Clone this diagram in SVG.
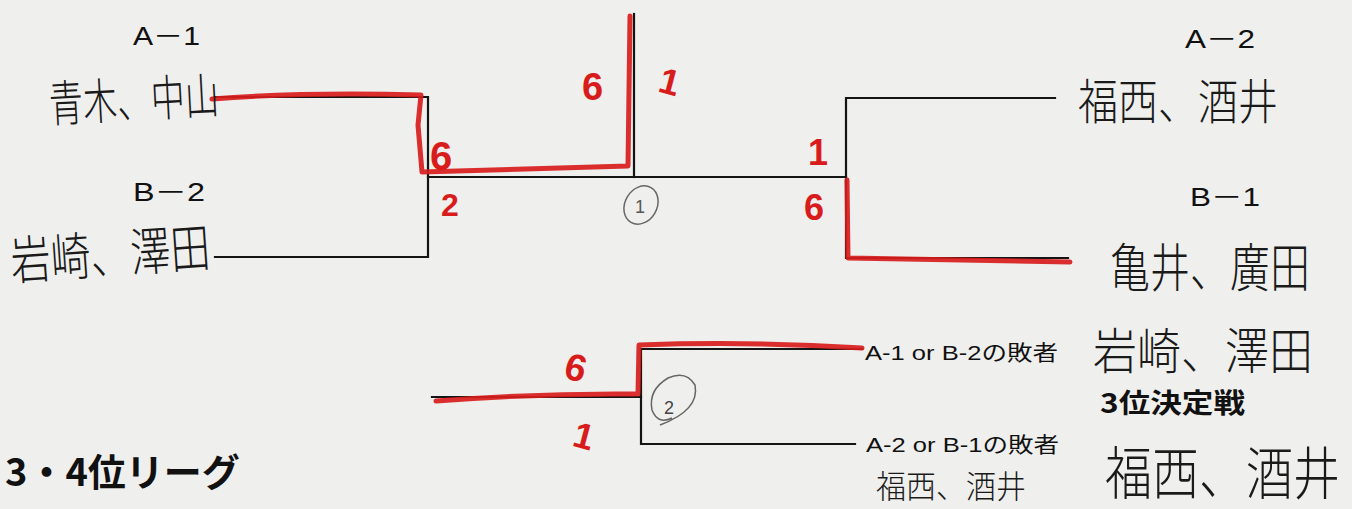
<svg xmlns="http://www.w3.org/2000/svg" width="1352" height="509" viewBox="0 0 1352 509">
<style>
.bg{fill:#efefed}
.ln{stroke:#141414;stroke-width:2.2;fill:none;stroke-linecap:square}
.red{stroke:#d81c1c;stroke-width:5;fill:none;stroke-linecap:round;stroke-linejoin:round;opacity:.92}
.lab{font-family:"Liberation Sans","Noto Sans CJK JP",sans-serif;font-size:25px;fill:#111}
.hw{font-family:"Noto Sans CJK JP",sans-serif;font-weight:300;fill:#1a1a1a}
.num{font-family:"Liberation Sans","Noto Sans CJK JP",sans-serif;font-weight:bold;fill:#d81c1c}
.sm{font-family:"Liberation Sans","Noto Sans CJK JP",sans-serif;font-size:21px;fill:#111}
.bold{font-family:"Noto Sans CJK JP",sans-serif;font-weight:bold;fill:#111}
.circ{stroke:#666;stroke-width:1.5;fill:none}
</style>
<rect class="bg" x="0" y="0" width="1352" height="509"/>
<g id="connectors">
<path class="ln" d="M215 97 H428 V257 H215"/>
<path class="ln" d="M428 177 H846"/>
<path class="ln" d="M634 14 V177"/>
<path class="ln" d="M1055 98 H846 V258 H1068"/>
<path class="ln" d="M432 397 H641"/>
<path class="ln" d="M862 349 H641 V444 H855"/>
<path class="red" d="M212 99 Q300 92 421 95 L418 125 L422 172 Q520 169 628 166 L630 16"/>
<path class="red" d="M847 180 L848 258 L1070 262"/>
<path class="red" d="M436 401 Q540 393 638 394 L639 345 Q750 341 862 348"/>
</g>
<g id="node-a1">
<text class="lab" x="133" y="45" textLength="67" lengthAdjust="spacingAndGlyphs">A－1</text>
<text class="hw" font-size="34" transform="translate(50 122) rotate(-3) scale(1 1.45)">青木、中山</text>
</g>
<g id="node-b2">
<text class="lab" x="133" y="201" textLength="72" lengthAdjust="spacingAndGlyphs">B－2</text>
<text class="hw" font-size="40" transform="translate(12 280) rotate(-4) scale(1 1.3)">岩崎、澤田</text>
</g>
<g id="node-a2">
<text class="lab" x="1185" y="48" textLength="70" lengthAdjust="spacingAndGlyphs">A－2</text>
<text class="hw" font-size="40" transform="translate(1078 119) scale(1 1.2)">福西、酒井</text>
</g>
<g id="node-b1">
<text class="lab" x="1190" y="206" textLength="70" lengthAdjust="spacingAndGlyphs">B－1</text>
<text class="hw" font-size="40" transform="translate(1110 287) scale(1 1.3)">亀井、廣田</text>
</g>
<g id="scores">
<text class="num" x="582" y="100" font-size="38">6</text>
<text class="num" x="660" y="93" font-size="36" transform="rotate(15 665 80)">1</text>
<text class="num" x="430" y="170" font-size="40">6</text>
<text class="num" x="441" y="216" font-size="32">2</text>
<text class="num" x="808" y="165" font-size="36">1</text>
<text class="num" x="804" y="220" font-size="36">6</text>
<text class="num" x="566" y="381" font-size="38" transform="rotate(15 577 365)">6</text>
<text class="num" x="574" y="448" font-size="36" transform="rotate(15 582 435)">1</text>
</g>
<g id="match1">
<ellipse class="circ" cx="641" cy="205" rx="16" ry="20" transform="rotate(30 641 205)"/>
<text x="635" y="213" font-family="Liberation Sans,sans-serif" font-size="18" fill="#555">1</text>
</g>
<g id="match2">
<path class="circ" d="M660 425 Q700 410 695 385 Q686 370 668 378 Q648 390 652 410 Q658 425 672 418"/>
<text x="664" y="414" font-family="Liberation Sans,sans-serif" font-size="18" fill="#444">2</text>
</g>
<g id="node-loser1">
<text class="sm" x="865" y="360" textLength="193" lengthAdjust="spacingAndGlyphs">A-1 or B-2の敗者</text>
</g>
<g id="node-loser2">
<text class="sm" x="866" y="452" textLength="193" lengthAdjust="spacingAndGlyphs">A-2 or B-1の敗者</text>
<text class="hw" font-size="30" transform="translate(876 498) scale(1 1.05)">福西、酒井</text>
</g>
<g id="third-place">
<text class="hw" font-size="44" transform="translate(1093 369) scale(1 1.12)">岩崎、澤田</text>
<text class="bold" x="1100" y="413" font-size="27" textLength="145" lengthAdjust="spacingAndGlyphs">3位決定戦</text>
<text class="hw" font-size="47" transform="translate(1105 494) scale(1 1.22)">福西、酒井</text>
</g>
<g id="title">
<text class="bold" x="5" y="486" font-size="38">3・4位リーグ</text>
</g>
</svg>
